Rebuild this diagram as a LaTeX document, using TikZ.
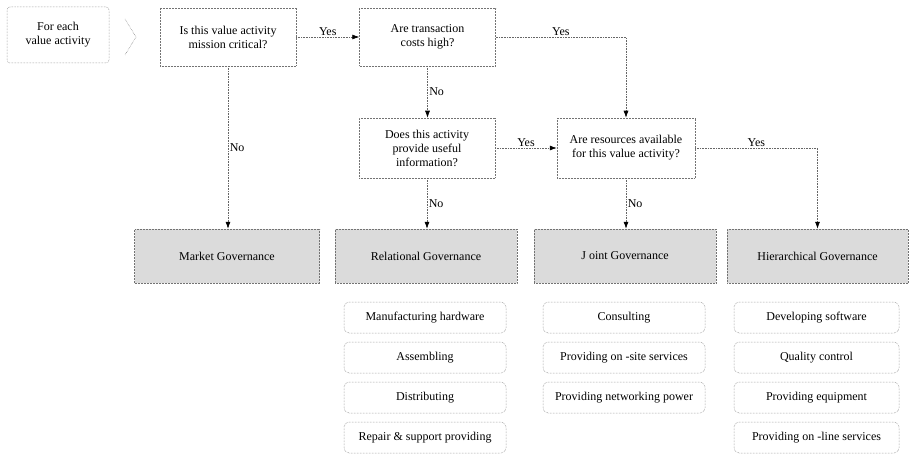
\documentclass[tikz,border=0pt]{standalone}
\usepackage{fontspec}
\setmainfont{Liberation Serif}
\usetikzlibrary{arrows.meta}
\begin{document}
\begin{tikzpicture}[x=1pt,y=-1pt,
  every node/.style={font=\fontsize{12}{14}\selectfont, text=black},
  qbox/.style={draw=black!55, densely dotted, line width=0.5pt, align=center, inner sep=2pt},
  gbox/.style={qbox, fill=black!14, minimum width=182pt, minimum height=54pt},
  abox/.style={qbox, rounded corners=5pt, minimum width=162pt, minimum height=31pt},
  conn/.style={draw=black!60, densely dotted, line width=0.6pt, -{Latex[length=7pt,width=5pt,color=black]}},
  lbl/.style={inner sep=1.5pt}
]
\useasboundingbox (0,0) rectangle (909,457);

% top row
\node[qbox, rounded corners=3pt, minimum width=102pt, minimum height=56pt] (start) at (58,35) {For each\\value activity};
\draw[black!55, densely dotted, line width=0.5pt] (125,19) -- (136,37) -- (125,55);
\node[qbox, minimum width=136pt, minimum height=58pt] (mission) at (228,37) {Is this value activity\\mission critical?};
\node[qbox, minimum width=136pt, minimum height=58pt] (trans) at (427.5,37) {Are transaction\\costs high?};

% middle row
\node[qbox, minimum width=136pt, minimum height=60pt] (useful) at (427,148) {Does this activity\\provide useful\\information?};
\node[qbox, minimum width=138pt, minimum height=60pt] (res) at (626,148) {Are resources available\\for this value activity?};

% governance row
\node[gbox, minimum width=185pt] (market) at (227,256) {Market Governance};
\node[gbox] (rel) at (426,256) {Relational Governance};
\node[gbox] (joint) at (625,256) {J oint Governance};
\node[gbox, minimum width=181pt] (hier) at (817.5,256) {Hierarchical Governance};

% activity boxes
\node[abox] (r1) at (425,317.5) {Manufacturing hardware};
\node[abox] (r2) at (425,357.5) {Assembling};
\node[abox] (r3) at (425,397.5) {Distributing};
\node[abox] (r4) at (425,437.5) {Repair \& support providing};
\node[abox] (j1) at (624,317.5) {Consulting};
\node[abox] (j2) at (624,357.5) {Providing on -site services};
\node[abox] (j3) at (624,397.5) {Providing networking power};
\node[abox, minimum width=165pt] (h1) at (816.5,317.5) {Developing software};
\node[abox, minimum width=165pt] (h2) at (816.5,357.5) {Quality control};
\node[abox, minimum width=165pt] (h3) at (816.5,397.5) {Providing equipment};
\node[abox, minimum width=165pt] (h4) at (816.5,437.5) {Providing on -line services};

% connectors
\draw[conn] (mission.east) -- node[lbl, above] {Yes} (trans.west);
\draw[conn] (trans.east) -| node[lbl, above, pos=0.25] {Yes} (res.north);
\draw[conn] (trans.south) -- node[lbl, right] {No} (trans.south |- useful.north);
\draw[conn] (useful.east) -- node[lbl, above] {Yes} (res.west);
\draw[conn] (res.east) -| node[lbl, above, pos=0.25] {Yes} (hier.north);
\draw[conn] (mission.south) -- node[lbl, right] {No} (mission.south |- market.north);
\draw[conn] (useful.south) -- node[lbl, right] {No} (useful.south |- rel.north);
\draw[conn] (res.south) -- node[lbl, right] {No} (res.south |- joint.north);
\end{tikzpicture}
\end{document}
